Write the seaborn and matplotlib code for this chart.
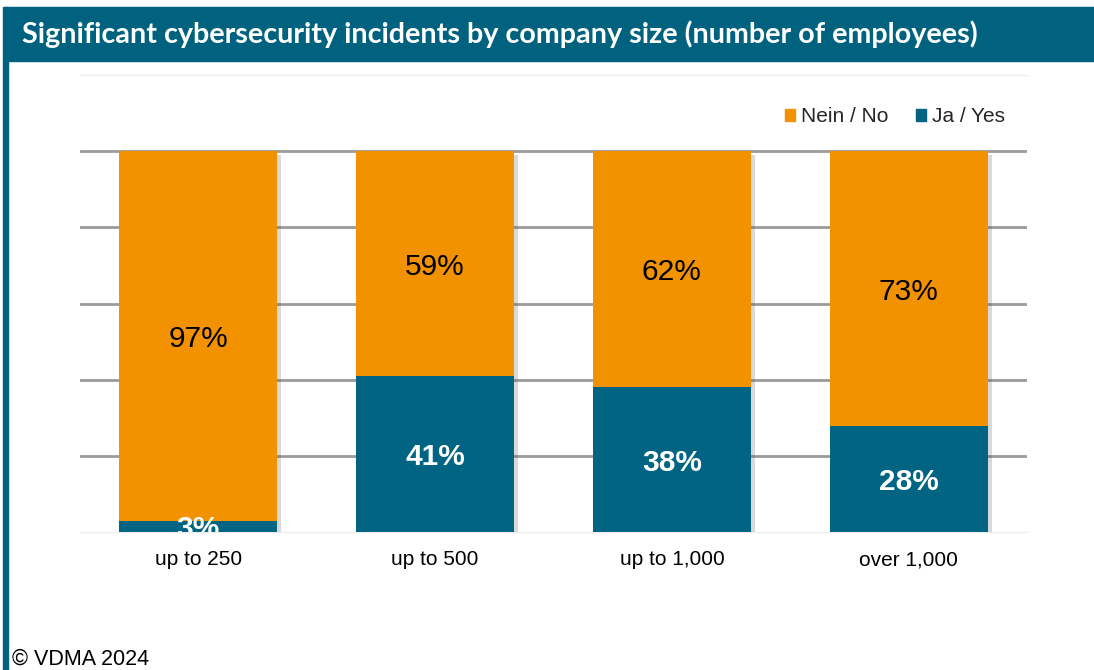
import matplotlib
matplotlib.use("Agg")
import matplotlib.pyplot as plt
import matplotlib.patheffects as pe
from matplotlib.patches import Rectangle
import seaborn as sns
import pandas as pd

categories = ["up to 250", "up to 500", "up to 1,000", "over 1,000"]
yes_pct = [3, 41, 38, 28]
no_pct = [97, 59, 62, 73]
series_names = ["Nein / No", "Ja / Yes"]

ORANGE = "#F39200"
TEAL = "#006482"

sns.set_theme(style="white")
plt.rcParams["font.family"] = ["Liberation Sans", "DejaVu Sans"]

# 100% stacked: each segment is drawn as its share of the row total
df = pd.DataFrame({"category": categories, "yes": yes_pct, "no": no_pct})
df["total"] = df["yes"] + df["no"]
df["yes_share"] = df["yes"] / df["total"] * 100
df["no_share"] = df["no"] / df["total"] * 100
df["full"] = df["yes_share"] + df["no_share"]

fig = plt.figure(figsize=(10.94, 6.70), dpi=100)
ax = fig.add_axes([80 / 1094, 1 - 532 / 670, 947 / 1094, 457 / 670])

# full-height bars (No stacked on Yes) then the Yes segment on top
sns.barplot(data=df, x="category", y="full", color=ORANGE, saturation=1,
            width=0.667, ax=ax, zorder=3)
sns.barplot(data=df, x="category", y="yes_share", color=TEAL, saturation=1,
            width=0.667, ax=ax, zorder=4)

n = len(categories)
for p in ax.patches[:n]:
    p.set_path_effects([pe.SimplePatchShadow(offset=(3, -3), shadow_rgbFace="#555555", alpha=0.22),
                        pe.Normal()])
for p in ax.patches:
    p.set_edgecolor("none")

ax.set_ylim(0, 120)
ax.set_xlim(-0.5, n - 0.5)
ax.set_yticks([20, 40, 60, 80, 100])
ax.yaxis.grid(True, color="#9a9a9a", linewidth=2, zorder=0)
ax.set_axisbelow(True)
ax.tick_params(axis="y", left=False, labelleft=False)
ax.tick_params(axis="x", bottom=False, labelsize=15, pad=7, colors="black")
ax.set_xlabel("")
ax.set_ylabel("")
for side in ["left", "right"]:
    ax.spines[side].set_visible(False)
for side in ["top", "bottom"]:
    ax.spines[side].set_color("#eeeeee")
    ax.spines[side].set_linewidth(1)

for i, row in df.iterrows():
    ax.text(i, row["yes_share"] + row["no_share"] / 2, f"{row['no']}%", ha="center",
            va="center_baseline", fontsize=21.5, color="black", zorder=6, clip_on=True)
    ax.text(i, row["yes_share"] / 2, f"{row['yes']}%", ha="center", va="center_baseline",
            fontsize=21.5, color="white", fontweight="bold", zorder=6, clip_on=True)

handles = [Rectangle((0, 0), 1, 1, color=ORANGE), Rectangle((0, 0), 1, 1, color=TEAL)]
ax.legend(handles, series_names, loc="upper right", bbox_to_anchor=(0.997, 0.97),
          ncol=2, frameon=False, fontsize=15, handlelength=0.5, handleheight=0.5,
          handletextpad=0.3, columnspacing=1.3)

# header band and frame
fig.patches.append(Rectangle((5 / 1094, 1 - 61 / 670), 1, 54 / 670,
                             transform=fig.transFigure, color="#00627F", zorder=0))
fig.patches.append(Rectangle((3 / 1094, 0), 5 / 1094, 1 - 7 / 670,
                             transform=fig.transFigure, color="#00627F", zorder=0))
fig.text(22 / 1094, 1 - 34 / 670,
         "Significant cybersecurity incidents by company size (number of employees)",
         color="white", fontsize=20.7, fontweight="bold", family="Lato",
         ha="left", va="center")
fig.text(12 / 1094, 1 - 659 / 670, "© VDMA 2024", fontsize=15.5, color="black",
         ha="left", va="center")

fig.savefig("out.png", dpi=100)
